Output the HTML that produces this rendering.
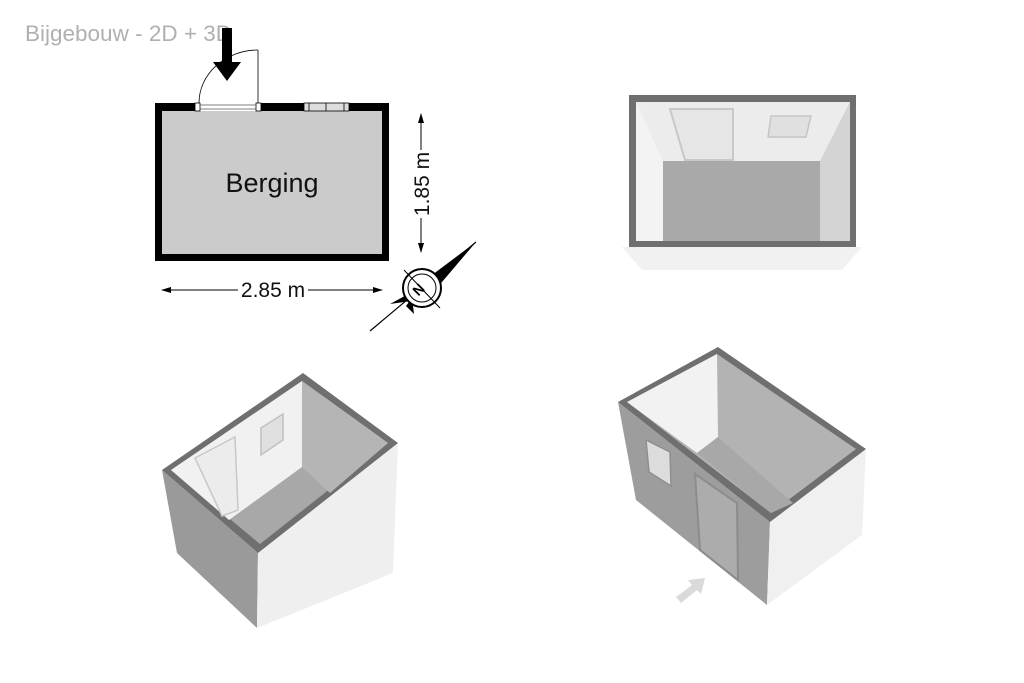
<!DOCTYPE html>
<html><head><style>
body{margin:0;background:#fff;width:1024px;height:683px;overflow:hidden}
svg{display:block}
</style></head><body>
<svg width="1024" height="683" viewBox="0 0 1024 683" xmlns="http://www.w3.org/2000/svg" font-family="Liberation Sans, sans-serif">
<defs>
<marker id="ah" markerWidth="10" markerHeight="8" refX="9" refY="4" orient="auto" markerUnits="userSpaceOnUse"><path d="M0,1 L10,4 L0,7 Z" fill="#000"/></marker>
</defs>
<text x="25" y="41" font-size="22.5" fill="#b0b0b0">Bijgebouw - 2D + 3D</text>
<!-- plan -->
<rect x="155" y="103" width="234" height="158" fill="#000"/>
<rect x="162" y="111" width="220" height="143" fill="#cbcbcb"/>
<rect x="195" y="103" width="66" height="8" fill="#fff"/>
<rect x="195" y="103" width="5" height="8" fill="#fff" stroke="#000" stroke-width="0.8"/>
<rect x="256" y="103" width="5" height="8" fill="#fff" stroke="#000" stroke-width="0.8"/>
<line x1="200" y1="105" x2="256" y2="105" stroke="#555" stroke-width="0.8"/>
<line x1="200" y1="109" x2="256" y2="109" stroke="#555" stroke-width="0.8"/>
<rect x="304" y="103" width="45" height="8" fill="#ddd" stroke="#000" stroke-width="0.8"/>
<line x1="309" y1="103" x2="309" y2="111" stroke="#000" stroke-width="0.8"/>
<line x1="326" y1="103" x2="326" y2="111" stroke="#000" stroke-width="0.8"/>
<line x1="344" y1="103" x2="344" y2="111" stroke="#000" stroke-width="0.8"/>
<line x1="258" y1="50" x2="258" y2="103" stroke="#000" stroke-width="0.8"/>
<path d="M199,103 A59,53 0 0 1 258,50" fill="none" stroke="#000" stroke-width="0.8"/>
<path d="M222,28 L232,28 L232,62 L241,62 L227,81 L213,62 L222,62 Z" fill="#000"/>
<text x="272" y="192" font-size="27" text-anchor="middle" fill="#111">Berging</text>
<line x1="421" y1="150" x2="421" y2="114" stroke="#000" marker-end="url(#ah)"/>
<line x1="421" y1="218" x2="421" y2="252" stroke="#000" marker-end="url(#ah)"/>
<text transform="translate(429,184) rotate(-90)" font-size="21" text-anchor="middle" fill="#111">1.85 m</text>
<line x1="238" y1="290" x2="162" y2="290" stroke="#000" marker-end="url(#ah)"/>
<line x1="308" y1="290" x2="382" y2="290" stroke="#000" marker-end="url(#ah)"/>
<text x="273" y="297" font-size="21" text-anchor="middle" fill="#111">2.85 m</text>
<!-- compass -->
<line x1="370" y1="331" x2="476" y2="242" stroke="#000" stroke-width="1.2"/>
<path d="M476,242 L428,278 L436,289 Z" fill="#000"/>
<path d="M390,304 L412,292 L418,300 Z M406,306 L412,298 L414,314 Z" fill="#000"/>
<circle cx="422" cy="288" r="19" fill="#fff" stroke="#000" stroke-width="2"/>
<circle cx="422" cy="288" r="14" fill="none" stroke="#000" stroke-width="1"/>
<line x1="404" y1="270" x2="440" y2="308" stroke="#000" stroke-width="1"/>
<text transform="translate(422,293) rotate(-45)" font-size="14" font-weight="bold" text-anchor="middle">N</text>
<!-- 3D top right -->
<polygon points="622,247 862,247 842,270 642,270" fill="#f1f1f1"/>
<rect x="629" y="95" width="227" height="152" fill="#6f6f6f"/>
<rect x="636" y="102" width="214" height="139" fill="#e4e4e4"/>
<polygon points="636,102 850,102 820,161 663,161" fill="#ececec"/>
<polygon points="636,102 663,161 663,241 636,241" fill="#f3f3f3"/>
<polygon points="850,102 820,161 820,241 850,241" fill="#d4d4d4"/>
<rect x="663" y="161" width="157" height="80" fill="#a9a9a9"/>
<polygon points="670,109 733,109 733,160 685,160" fill="#e6e6e6" stroke="#c8c8c8" stroke-width="2"/>
<polygon points="771,116 811,116 806,137 768,137" fill="#e0e0e0" stroke="#c5c5c5" stroke-width="1.5"/>
<!-- 3D bottom left -->
<polygon points="162,470 258,553 257,628 177,553" fill="#9a9a9a"/>
<polygon points="258,553 398,443 393,573 257,628" fill="#efefef"/>
<polygon points="162,470 303,373 398,443 258,553" fill="#6f6f6f"/>
<polygon points="171,470 302,381 388,443 260,544" fill="#a8a8a8"/>
<polygon points="171,470 302,381 302,467 229,520" fill="#f1f1f1"/>
<polygon points="302,381 388,443 330,493 302,467" fill="#b5b5b5"/>
<polygon points="195,458 235,437 238,510 222,516" fill="#ececec" stroke="#c8c8c8" stroke-width="1.5"/>
<polygon points="261,428 283,414 283,440 261,455" fill="#e0e0e0" stroke="#c0c0c0" stroke-width="1.5"/>
<!-- 3D bottom right -->
<polygon points="618,402 770,522 767,605 636,500" fill="#9d9d9d"/>
<polygon points="770,522 866,449 862,535 767,605" fill="#f0f0f0"/>
<polygon points="618,402 718,347 866,449 770,522" fill="#6f6f6f"/>
<polygon points="627,402 717,354 856,449 771,513" fill="#b3b3b3"/>
<polygon points="627,402 717,354 718,437 697,453" fill="#f2f2f2"/>
<polygon points="697,453 718,437 793,503 771,513" fill="#a8a8a8"/>
<polygon points="695,474 737,503 738,580 700,550" fill="#acacac" stroke="#8c8c8c" stroke-width="2"/>
<polygon points="646,440 670,452 671,486 649,472" fill="#dcdcdc" stroke="#8e8e8e" stroke-width="1.5"/>
<polygon points="676,597 692,585 688,580 705,578 701,594 697,590 681,603" fill="#dadada"/>
</svg>
</body></html>
